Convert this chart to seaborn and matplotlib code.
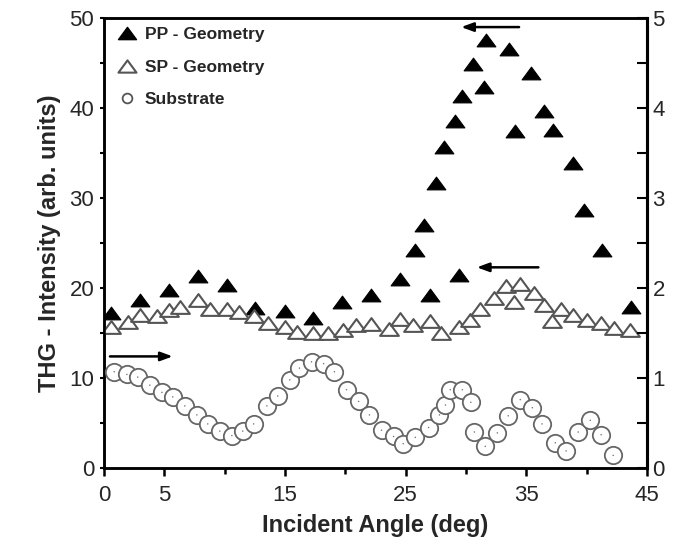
import numpy as np
import pandas as pd
import matplotlib
matplotlib.use("Agg")
import matplotlib.pyplot as plt
from matplotlib.lines import Line2D
from matplotlib.path import Path
import seaborn as sns

# ---- data ----
pp_angle = [0.6, 3.0, 5.4, 7.8, 10.2, 12.5, 15.0, 17.3, 19.7, 22.1, 24.5, 25.8, 26.5,
            27.0, 27.5, 28.2, 29.1, 29.4, 29.7, 30.6, 31.5, 31.7, 33.6, 34.1, 35.4,
            36.5, 37.2, 38.9, 39.8, 41.3, 43.7]
pp_val = [17.2, 18.7, 19.8, 21.3, 20.3, 17.8, 17.4, 16.7, 18.5, 19.2, 21.0, 24.2, 27.0,
          19.2, 31.7, 35.7, 38.6, 21.4, 41.3, 44.9, 42.3, 47.6, 46.6, 37.4, 43.9,
          39.7, 37.6, 33.9, 28.7, 24.2, 17.9]

sp_angle = [0.6, 2.0, 3.0, 4.4, 5.4, 6.3, 7.8, 8.8, 10.2, 11.2, 12.4, 13.6, 15.0, 16.0,
            17.3, 18.6, 19.8, 20.9, 22.1, 23.6, 24.5, 25.6, 27.0, 27.9, 29.4, 30.3,
            31.2, 32.3, 33.3, 34.0, 34.5, 35.6, 36.5, 37.1, 37.9, 38.9, 40.0, 41.2,
            42.3, 43.6]
sp_val = [15.7, 16.2, 17.0, 16.9, 17.6, 17.9, 18.7, 17.7, 17.7, 17.3, 16.9, 16.1, 15.7,
          15.1, 15.0, 15.0, 15.3, 15.9, 16.0, 15.5, 16.6, 15.9, 16.3, 15.0, 15.7, 16.4,
          17.7, 18.9, 20.2, 18.5, 20.4, 19.5, 18.1, 16.3, 17.7, 17.0, 16.4, 16.1,
          15.6, 15.3]

sub_angle = [0.85, 1.9, 2.8, 3.8, 4.8, 5.7, 6.7, 7.7, 8.6, 9.6, 10.6, 11.5, 12.4, 13.5,
             14.4, 15.4, 16.2, 17.2, 18.2, 19.1, 20.1, 21.1, 22.0, 23.0, 24.0, 24.8,
             25.8, 26.9, 27.8, 28.3, 28.7, 29.7, 30.4, 30.7, 31.6, 32.6, 33.5, 34.5,
             35.5, 36.3, 37.4, 38.3, 39.3, 40.3, 41.2, 42.2]
sub_val = [1.07, 1.04, 1.01, 0.92, 0.84, 0.79, 0.69, 0.59, 0.49, 0.41, 0.36, 0.41, 0.49,
           0.69, 0.80, 0.98, 1.11, 1.18, 1.16, 1.07, 0.87, 0.74, 0.59, 0.42, 0.35, 0.27,
           0.34, 0.45, 0.59, 0.70, 0.87, 0.87, 0.73, 0.40, 0.24, 0.39, 0.58, 0.76,
           0.67, 0.49, 0.28, 0.19, 0.40, 0.53, 0.37, 0.14]

legend_labels = ["PP - Geometry", "SP - Geometry", "Substrate"]
x_major = [0, 5, 15, 25, 35, 45]
x_minor = [10, 20, 30, 40]

pp = pd.DataFrame({"angle": pp_angle, "val": pp_val})
sp = pd.DataFrame({"angle": sp_angle, "val": sp_val})
sub = pd.DataFrame({"angle": sub_angle, "val": sub_val})

sns.set_theme(style="white")
plt.rcParams["font.family"] = ["Liberation Sans", "DejaVu Sans"]

fig = plt.figure(figsize=(6.75, 5.48), dpi=100)
ax = fig.add_axes([0.154, 0.146, 0.8045, 0.821])
ax2 = ax.twinx()

tri = Path([(-1, -0.68), (1, -0.68), (0, 0.68), (-1, -0.68)], closed=True)

sns.scatterplot(data=pp, x="angle", y="val", ax=ax, marker=tri, s=13.5**2,
                color="black", edgecolor="black", linewidth=0.8, zorder=3)
sns.scatterplot(data=sp, x="angle", y="val", ax=ax, marker=tri, s=13.5**2,
                facecolor="white", edgecolor="#555555", linewidth=1.5, zorder=4)
sns.scatterplot(data=sub, x="angle", y="val", ax=ax2, marker="o", s=12.5**2,
                facecolor="white", edgecolor="#666666", linewidth=1.3, zorder=3)
sns.scatterplot(data=sub, x="angle", y="val", ax=ax2, marker="o", s=1.2,
                color="#777777", edgecolor="none", zorder=4)

ax.set_xlim(0, 45)
ax.set_ylim(0, 50)
ax2.set_ylim(0, 5)

ax.set_xticks(x_major)
ax.set_xticks(x_minor, minor=True)
ax.set_yticks([0, 10, 20, 30, 40, 50])
ax.set_yticks([5, 15, 25, 35, 45], minor=True)
ax2.set_yticks([0, 1, 2, 3, 4, 5])
ax2.set_yticks([0.5, 1.5, 2.5, 3.5, 4.5], minor=True)

ax.tick_params(axis="x", which="major", direction="out", length=6, width=1.8,
               labelsize=16, pad=6, bottom=True, color="black")
ax.tick_params(axis="x", which="minor", direction="out", length=4, width=1.8,
               bottom=True, color="black")
ax.tick_params(axis="y", which="both", direction="out", length=3, width=1.5,
               labelsize=16, left=True, color="black", pad=4)
ax2.tick_params(axis="y", which="both", direction="in", length=7, width=1.5,
                labelsize=16, right=True, color="black", pad=4)

for a in (ax, ax2):
    for s in a.spines.values():
        s.set_color("black")
        s.set_linewidth(1.8)
    a.spines["right"].set_linewidth(2.2)

ax.set_xlabel("Incident Angle (deg)", fontsize=17, fontweight="bold", labelpad=6)
ax.set_ylabel("THG - Intensity (arb. units)", fontsize=17, fontweight="bold", labelpad=6)
ax2.set_ylabel("")

# direction arrows
arrow_kw = dict(arrowstyle="-|>,head_length=0.6,head_width=0.22", color="black", lw=1.8,
                shrinkA=0, shrinkB=0)
ax.annotate("", xy=(29.6, 49.0), xytext=(34.4, 49.0), arrowprops=arrow_kw)
ax.annotate("", xy=(30.9, 22.3), xytext=(36.0, 22.3), arrowprops=arrow_kw)
ax.annotate("", xy=(5.7, 12.4), xytext=(0.5, 12.4), arrowprops=arrow_kw)

handles = [
    Line2D([], [], ls="none", marker=tri, ms=13, mfc="black", mec="black"),
    Line2D([], [], ls="none", marker=tri, ms=13, mfc="white", mec="#555555", mew=1.5),
    Line2D([], [], ls="none", marker="o", ms=7, mfc="white", mec="#555555", mew=1.3),
]
leg = ax.legend(handles, legend_labels, loc="upper left", frameon=False,
                fontsize=12.5, handletextpad=0.45, labelspacing=1.0,
                borderaxespad=0.0, handlelength=1.2, bbox_to_anchor=(0.01, 0.995))
for t in leg.get_texts():
    t.set_fontweight("bold")

fig.savefig("out.png", dpi=100)
